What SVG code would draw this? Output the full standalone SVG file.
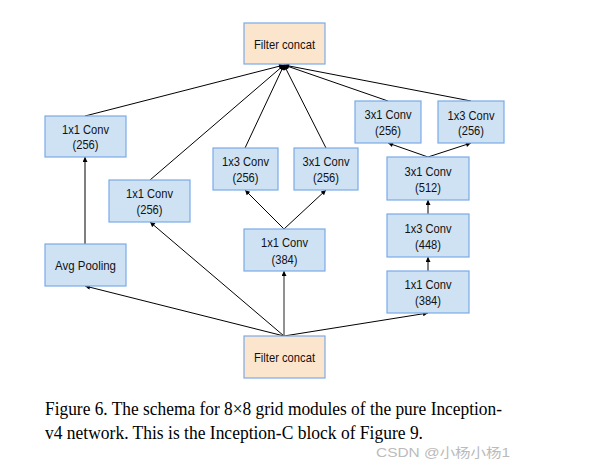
<svg xmlns="http://www.w3.org/2000/svg" width="613" height="461" viewBox="0 0 613 461">
<defs>
<marker id="ah" viewBox="0 0 10 10" refX="10" refY="5" markerWidth="6" markerHeight="5" markerUnits="userSpaceOnUse" orient="auto">
<path d="M0,0 L10,5 L0,10 z" fill="#000"/>
</marker>
</defs>
<style>
.conv{fill:#cfe2f3;stroke:#7aaae8;stroke-width:1.2}
.cat{fill:#fce5cd;stroke:#7aaae8;stroke-width:1.2}
.t{font-family:"Liberation Sans",Arial,sans-serif;font-size:13.5px;fill:#111;text-anchor:middle}
.e{stroke:#000;stroke-width:1;fill:none;marker-end:url(#ah)}
.cap{font-family:"Liberation Serif","Times New Roman",serif;font-size:19px;fill:#000}
.wm{font-family:"Liberation Sans","Noto Sans CJK SC",sans-serif;font-size:13px;fill:#bbb}
</style>
<rect width="613" height="461" fill="#fff"/>
<g id="edges">
<line class="e" x1="85" y1="116" x2="284" y2="65"/>
<line class="e" x1="150" y1="180" x2="284" y2="65"/>
<line class="e" x1="245" y1="148" x2="284" y2="65"/>
<line class="e" x1="326" y1="148" x2="284" y2="65"/>
<line class="e" x1="388" y1="101" x2="284" y2="65"/>
<line class="e" x1="471" y1="101" x2="284" y2="65"/>
<line class="e" x1="85" y1="244" x2="85" y2="157"/>
<line class="e" x1="284" y1="336" x2="85" y2="286"/>
<line class="e" x1="284" y1="336" x2="150" y2="222"/>
<line class="e" x1="284" y1="336" x2="284" y2="271" style="stroke:#555;stroke-width:1.3"/>
<line class="e" x1="284" y1="336" x2="428" y2="313"/>
<line class="e" x1="284" y1="229" x2="245" y2="190"/>
<line class="e" x1="284" y1="229" x2="326" y2="190"/>
<line class="e" x1="428" y1="157" x2="388" y2="143"/>
<line class="e" x1="428" y1="157" x2="471" y2="143"/>
<line class="e" x1="428" y1="271" x2="428" y2="257"/>
<line class="e" x1="428" y1="214" x2="428" y2="200"/>
</g>
<g id="concat_top"><rect class="cat" x="244" y="23" width="81" height="41"/><text class="t" x="284.5" y="49" textLength="61" lengthAdjust="spacingAndGlyphs">Filter concat</text></g>
<g id="conv1_left"><rect class="conv" x="45" y="116" width="81" height="41"/><text class="t" x="85.5" y="134" textLength="47" lengthAdjust="spacingAndGlyphs">1x1 Conv</text><text class="t" x="85.5" y="149" textLength="26" lengthAdjust="spacingAndGlyphs">(256)</text></g>
<g id="conv31_tr"><rect class="conv" x="355" y="101" width="66" height="42"/><text class="t" x="388" y="119" textLength="47" lengthAdjust="spacingAndGlyphs">3x1 Conv</text><text class="t" x="388" y="135" textLength="26" lengthAdjust="spacingAndGlyphs">(256)</text></g>
<g id="conv13_tr"><rect class="conv" x="438" y="101" width="66" height="42"/><text class="t" x="471" y="120" textLength="47" lengthAdjust="spacingAndGlyphs">1x3 Conv</text><text class="t" x="471" y="135" textLength="26" lengthAdjust="spacingAndGlyphs">(256)</text></g>
<g id="conv13_mid"><rect class="conv" x="213" y="148" width="65" height="42"/><text class="t" x="245.5" y="166" textLength="47" lengthAdjust="spacingAndGlyphs">1x3 Conv</text><text class="t" x="245.5" y="182" textLength="26" lengthAdjust="spacingAndGlyphs">(256)</text></g>
<g id="conv31_mid"><rect class="conv" x="294" y="148" width="64" height="42"/><text class="t" x="326" y="166" textLength="47" lengthAdjust="spacingAndGlyphs">3x1 Conv</text><text class="t" x="326" y="182" textLength="26" lengthAdjust="spacingAndGlyphs">(256)</text></g>
<g id="conv1_b2"><rect class="conv" x="109" y="180" width="81" height="42"/><text class="t" x="149.5" y="198" textLength="47" lengthAdjust="spacingAndGlyphs">1x1 Conv</text><text class="t" x="149.5" y="214" textLength="26" lengthAdjust="spacingAndGlyphs">(256)</text></g>
<g id="conv31_512"><rect class="conv" x="387" y="157" width="82" height="43"/><text class="t" x="428" y="176" textLength="47" lengthAdjust="spacingAndGlyphs">3x1 Conv</text><text class="t" x="428" y="192" textLength="26" lengthAdjust="spacingAndGlyphs">(512)</text></g>
<g id="conv1_384m"><rect class="conv" x="244" y="229" width="81" height="42"/><text class="t" x="284.5" y="247" textLength="47" lengthAdjust="spacingAndGlyphs">1x1 Conv</text><text class="t" x="284.5" y="264" textLength="26" lengthAdjust="spacingAndGlyphs">(384)</text></g>
<g id="avgpool"><rect class="conv" x="45" y="244" width="81" height="42"/><text class="t" x="85.5" y="270" textLength="61" lengthAdjust="spacingAndGlyphs">Avg Pooling</text></g>
<g id="conv13_448"><rect class="conv" x="387" y="214" width="82" height="43"/><text class="t" x="428" y="233" textLength="47" lengthAdjust="spacingAndGlyphs">1x3 Conv</text><text class="t" x="428" y="249" textLength="26" lengthAdjust="spacingAndGlyphs">(448)</text></g>
<g id="conv1_384r"><rect class="conv" x="387" y="271" width="82" height="42"/><text class="t" x="428" y="289" textLength="47" lengthAdjust="spacingAndGlyphs">1x1 Conv</text><text class="t" x="428" y="305" textLength="26" lengthAdjust="spacingAndGlyphs">(384)</text></g>
<g id="concat_bot"><rect class="cat" x="244" y="336" width="81" height="42"/><text class="t" x="284.5" y="362" textLength="61" lengthAdjust="spacingAndGlyphs">Filter concat</text></g>
<g id="caption">
<text class="cap" x="45" y="415" textLength="457" lengthAdjust="spacingAndGlyphs">Figure 6. The schema for 8×8 grid modules of the pure Inception-</text>
<text class="cap" x="45" y="439" textLength="378" lengthAdjust="spacingAndGlyphs">v4 network. This is the Inception-C block of Figure 9.</text>
<text class="wm" x="376" y="457" textLength="134" lengthAdjust="spacingAndGlyphs">CSDN @小杨小杨1</text>
</g>
</svg>
